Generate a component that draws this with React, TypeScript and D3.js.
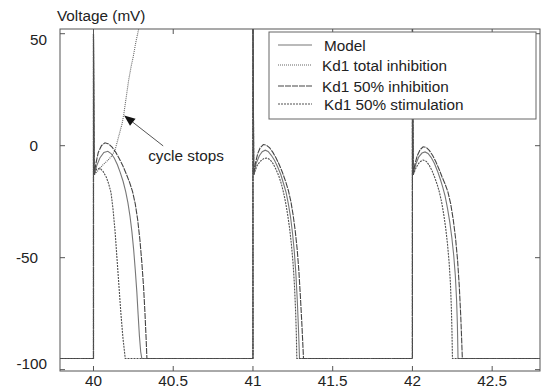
import React from "react";
import * as d3 from "d3";

// ---- data (time in s, voltage in mV) ----
const xTicks = [40, 40.5, 41, 41.5, 42, 42.5];
const yTicks = [-100, -50, 0, 50];
const seriesNames = ["Model", "Kd1 total inhibition", "Kd1 50% inhibition", "Kd1 50% stimulation"];

const modelTrace: [number, number][] = [
  [39.79, -95], [40.0, -95], [40.0, 50], [40.004, -13], [40.02, -9], [40.04, -5.5], [40.065, -3],
  [40.09, -2.5], [40.11, -3.5], [40.13, -5.5], [40.15, -8.5], [40.168, -12], [40.186, -16], [40.202, -20.5],
  [40.216, -25.5], [40.229, -31.5], [40.241, -38.5], [40.252, -46.5], [40.262, -55.5], [40.272, -65.5],
  [40.28, -75.5], [40.288, -85], [40.296, -92], [40.303, -95],
  [41.0, -95], [41.0, 62], [41.005, -13], [41.02, -8], [41.04, -4.5], [41.058, -2.7], [41.077, -2],
  [41.095, -2.6], [41.115, -4.3], [41.135, -6.5], [41.155, -9.5], [41.175, -13], [41.192, -17],
  [41.208, -21], [41.222, -26], [41.236, -32], [41.248, -39], [41.259, -47], [41.269, -57], [41.278, -69],
  [41.285, -81], [41.289, -89], [41.292, -95],
  [42.0, -95], [42.0, 62], [42.005, -13], [42.02, -8.5], [42.04, -5], [42.06, -3.3], [42.079, -2.8],
  [42.098, -3.5], [42.118, -5.3], [42.138, -8], [42.158, -11.5], [42.175, -15], [42.19, -18.5],
  [42.205, -22.5], [42.22, -28], [42.234, -34], [42.247, -41], [42.259, -49], [42.269, -58], [42.277, -69],
  [42.282, -80], [42.286, -95], [42.81, -95],
];

const kd1TotalTrace: [number, number][] = [
  [39.79, -95], [40.0, -95], [40.0, 50], [40.004, -13], [40.03, -11], [40.06, -8.5], [40.09, -6.5],
  [40.115, -4.5], [40.135, -2], [40.15, 2], [40.165, 6], [40.18, 10], [40.19, 14], [40.2, 19],
  [40.21, 24], [40.22, 29], [40.235, 35], [40.25, 40], [40.265, 46], [40.28, 51], [40.295, 56],
];

const kd1HalfInhTrace: [number, number][] = [
  [39.79, -95], [40.0, -95], [40.0, 50], [40.004, -13], [40.015, -8], [40.03, -3], [40.05, 0],
  [40.072, 1.3], [40.095, 0.8], [40.118, -0.8], [40.14, -3], [40.162, -5.8], [40.184, -9], [40.205, -12.5],
  [40.226, -16.3], [40.245, -20.5], [40.262, -26], [40.277, -33], [40.291, -42], [40.303, -52],
  [40.314, -63], [40.323, -75], [40.33, -86], [40.335, -95],
  [41.0, -95], [41.0, 62], [41.005, -13], [41.015, -8], [41.03, -3.5], [41.045, -1], [41.065, 0.5],
  [41.085, 0.2], [41.105, -1], [41.125, -3], [41.145, -5.5], [41.165, -8.5], [41.185, -12], [41.205, -16],
  [41.222, -20], [41.238, -25], [41.252, -31], [41.265, -38], [41.277, -46], [41.288, -56], [41.298, -68],
  [41.307, -80], [41.313, -89], [41.317, -95],
  [42.0, -95], [42.0, 62], [42.005, -13], [42.015, -8.5], [42.03, -4.5], [42.048, -1.8], [42.067, -0.5],
  [42.087, -0.8], [42.107, -2.2], [42.127, -4.4], [42.147, -7.2], [42.167, -10.5], [42.186, -14],
  [42.204, -17], [42.222, -20.5], [42.24, -26], [42.256, -33], [42.27, -41], [42.283, -51], [42.294, -63],
  [42.303, -76], [42.309, -87], [42.313, -95], [42.81, -95],
];

const kd1HalfStimTrace: [number, number][] = [
  [39.79, -95], [40.0, -95], [40.0, 50], [40.004, -13], [40.02, -10.5], [40.04, -10], [40.06, -11.5],
  [40.08, -14], [40.095, -17], [40.11, -21], [40.122, -28], [40.135, -38], [40.147, -50], [40.16, -63],
  [40.172, -75], [40.185, -86], [40.199, -95],
  [41.0, -95], [41.0, 62], [41.005, -13], [41.025, -9], [41.045, -7], [41.067, -5.8], [41.089, -5.5],
  [41.108, -6.3], [41.126, -8], [41.144, -10.5], [41.162, -13.5], [41.178, -17], [41.192, -21],
  [41.205, -25.5], [41.218, -31], [41.23, -37], [41.241, -44], [41.251, -52], [41.26, -62], [41.267, -73],
  [41.272, -84], [41.275, -95],
  [42.0, -95], [42.0, 62], [42.005, -13], [42.025, -9.5], [42.045, -7.3], [42.067, -6.4], [42.087, -7],
  [42.105, -8.7], [42.123, -11.2], [42.14, -14.2], [42.156, -17.5], [42.17, -21], [42.184, -25.5],
  [42.197, -31], [42.209, -37], [42.22, -44], [42.23, -52], [42.238, -61], [42.244, -72], [42.248, -83],
  [42.251, -95], [42.81, -95],
];

const W = 543;
const H = 389;
const M = { left: 60, right: 540, top: 29, bottom: 371 };
const FONT = "'Liberation Sans', Arial, sans-serif";

export default function App() {
  const x = d3.scaleLinear().domain([39.79, 42.8]).range([M.left, M.right]);
  const y = d3.scaleLinear().domain([-100.6, 52.1]).range([M.bottom, M.top]);
  const line = d3
    .line<[number, number]>()
    .x((d) => x(d[0]))
    .y((d) => y(d[1]));

  const traces = [
    { name: seriesNames[0], data: modelTrace, stroke: "#777777", dash: undefined as string | undefined },
    { name: seriesNames[1], data: kd1TotalTrace, stroke: "#666666", dash: "1,1" },
    { name: seriesNames[2], data: kd1HalfInhTrace, stroke: "#444444", dash: "6,1" },
    { name: seriesNames[3], data: kd1HalfStimTrace, stroke: "#505050", dash: "2,1" },
  ];

  const yLabelEnd = (v: number) => (String(v).length % 2 === 0 ? 47 : 38);
  const yLabelBase = (v: number) => Math.min(Math.max(y(v) + 5, 45), 369);

  // annotation anchors (data coords)
  const tipX = x(40.192), tipY = y(13.5);
  const tailX = x(40.437), tailY = y(-0.1);
  const ang = Math.atan2(tipY - tailY, tipX - tailX);
  const hl = 11, hw = 4.5;
  const bx = tipX - hl * Math.cos(ang), by = tipY - hl * Math.sin(ang);
  const head = [
    [tipX, tipY],
    [bx + hw * Math.sin(ang), by - hw * Math.cos(ang)],
    [bx - hw * Math.sin(ang), by + hw * Math.cos(ang)],
  ];

  const legX = 269, legY = 32, legW = 267, legH = 87;
  const rowY = [45, 65, 86, 104];

  return (
    <svg width={W} height={H} style={{ position: "absolute", left: 0, top: 0, background: "#fff" }} fontFamily={FONT}>
      <defs>
        <clipPath id="plotclip">
          <rect x={M.left} y={M.top} width={M.right - M.left} height={M.bottom - M.top} />
        </clipPath>
      </defs>
      <rect x={0} y={0} width={W} height={H} fill="#fff" />
      <g clipPath="url(#plotclip)">
        {traces.map((t) => (
          <path key={t.name} d={line(t.data) || ""} fill="none" stroke={t.stroke} strokeWidth={1.1} strokeDasharray={t.dash} />
        ))}
      </g>
      {/* frame */}
      <rect x={M.left} y={M.top} width={M.right - M.left} height={M.bottom - M.top} fill="none" stroke="#555" strokeWidth={1} />
      {/* x ticks */}
      {xTicks.map((v) => (
        <g key={"x" + v}>
          <line x1={x(v)} x2={x(v)} y1={M.bottom} y2={M.bottom - 5} stroke="#555" />
          <line x1={x(v)} x2={x(v)} y1={M.top} y2={M.top + 5} stroke="#555" />
          <text x={x(v)} y={386} textAnchor="middle" fontSize={15.3} fill="#222">{v}</text>
        </g>
      ))}
      {/* y ticks */}
      {yTicks.map((v) => (
        <g key={"y" + v}>
          <line x1={M.left} x2={M.left + 5} y1={y(v)} y2={y(v)} stroke="#555" />
          <line x1={M.right} x2={M.right - 5} y1={y(v)} y2={y(v)} stroke="#555" />
          <text x={yLabelEnd(v)} y={yLabelBase(v)} textAnchor="end" fontSize={15.3} fill="#222">{v}</text>
        </g>
      ))}
      <text x={57} y={21} fontSize={15.3} fill="#222">Voltage (mV)</text>
      {/* annotation */}
      <line x1={tailX} y1={tailY} x2={bx} y2={by} stroke="#555" strokeWidth={1} />
      <polygon points={head.map((p) => p.join(",")).join(" ")} fill="#111" />
      <text x={x(40.343)} y={y(-6.8)} fontSize={15.3} fill="#222">cycle stops</text>
      {/* legend */}
      <rect x={legX} y={legY} width={legW} height={legH} fill="#fff" stroke="#666" strokeWidth={1} />
      {traces.map((t, i) => (
        <g key={"leg" + i}>
          <line x1={278} x2={312} y1={rowY[i]} y2={rowY[i]} stroke={t.stroke} strokeWidth={1.1} strokeDasharray={t.dash} />
          <text x={i === 0 || i === 3 ? 324 : 322} y={rowY[i] + 5.5} fontSize={15.3} fill="#222">{t.name}</text>
        </g>
      ))}
    </svg>
  );
}
